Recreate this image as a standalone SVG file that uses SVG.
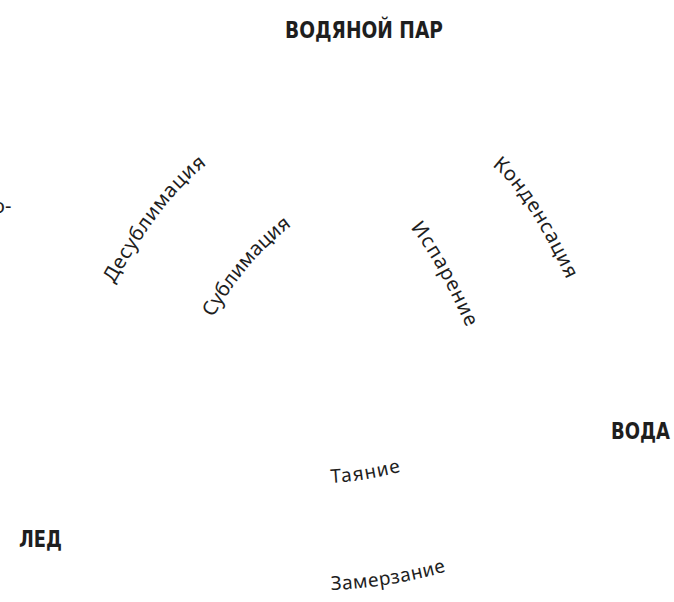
<svg xmlns="http://www.w3.org/2000/svg" width="674" height="602" viewBox="0 0 674 602">
<style>
.node{font-family:"DejaVu Sans Condensed","DejaVu Sans","Liberation Sans",sans-serif;font-weight:bold;font-size:23px;fill:#1e1e1e}
.lbl{font-family:"Noto Sans","Open Sans",sans-serif;font-size:20px;fill:#1e1e1e}
.sm{font-size:19px}
</style>
<defs>
<path id="p-desub" d="M114,284 Q164,195 209,163"/>
<path id="p-sub" d="M213,318 Q247,258 293,225"/>
<path id="p-isp" d="M410,228 Q431,250 467,328"/>
<path id="p-kond" d="M492,166 Q524,189 567,280"/>
<path id="p-tay" d="M331,483 Q366,481 403,471"/>
<path id="p-zam" d="M331,590 Q390,588 448,571"/>
</defs>
<rect width="674" height="602" fill="#ffffff"/>
<g id="vapor"><text class="node" x="285" y="38" textLength="158" lengthAdjust="spacingAndGlyphs">ВОДЯНОЙ ПАР</text></g>
<g id="water"><text class="node" x="611" y="439" textLength="59" lengthAdjust="spacingAndGlyphs">ВОДА</text></g>
<g id="ice"><text class="node" x="19" y="547" textLength="43" lengthAdjust="spacingAndGlyphs">ЛЕД</text></g>
<g id="connectors">
<text class="lbl"><textPath href="#p-desub" textLength="152" lengthAdjust="spacing">Десублимация</textPath></text>
<text class="lbl"><textPath href="#p-sub" textLength="122" lengthAdjust="spacing">Сублимация</textPath></text>
<text class="lbl"><textPath href="#p-isp" textLength="115" lengthAdjust="spacing">Испарение</textPath></text>
<text class="lbl"><textPath href="#p-kond" textLength="137" lengthAdjust="spacing">Конденсация</textPath></text>
<text class="lbl sm"><textPath href="#p-tay" textLength="71" lengthAdjust="spacing">Таяние</textPath></text>
<text class="lbl sm"><textPath href="#p-zam" textLength="117" lengthAdjust="spacing">Замерзание</textPath></text>
<text class="lbl" x="-7" y="213" font-size="18">о-</text>
</g>
</svg>
